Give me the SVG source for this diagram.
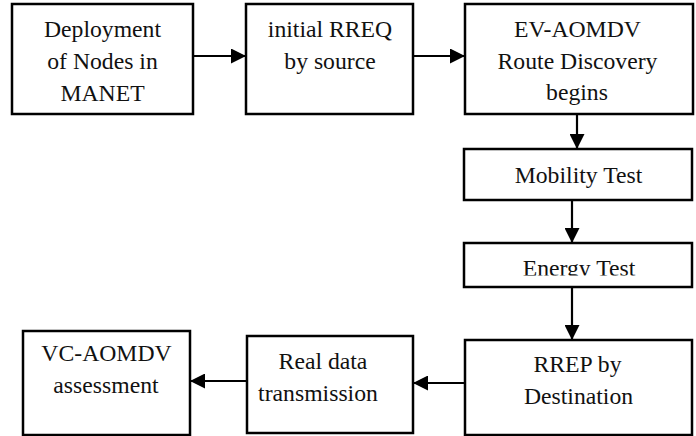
<svg xmlns="http://www.w3.org/2000/svg" width="696" height="436" viewBox="0 0 696 436">
<style>
.box{fill:#fff;stroke:#000;stroke-width:2.5}
.t{font-size:23.7px;fill:#111;text-anchor:middle}
.c{stroke:#000;stroke-width:2.2;fill:none;marker-end:url(#ah)}
</style>
<defs>
<marker id="ah" markerUnits="userSpaceOnUse" markerWidth="15" markerHeight="15" refX="15" refY="7.5" orient="auto">
<path d="M0,0 L15,7.5 L0,15 z" fill="#000"/>
</marker>
<clipPath id="eclip"><rect x="464" y="243" width="228" height="32.5"/></clipPath>
</defs>
<rect width="696" height="436" fill="#fff"/>
<g id="connectors">
<line class="c" x1="193" y1="56" x2="246" y2="56"/>
<line class="c" x1="413" y1="56" x2="465" y2="56"/>
<line class="c" x1="577" y1="114" x2="577" y2="149"/>
<line class="c" x1="572" y1="200" x2="572" y2="243"/>
<line class="c" x1="572" y1="287" x2="572" y2="340"/>
<line class="c" x1="465" y1="383" x2="413" y2="383"/>
<line class="c" x1="247" y1="381" x2="190" y2="381"/>
</g>
<g font-family="Liberation Serif, Times New Roman, serif">
<g id="n1">
<rect class="box" x="12" y="4" width="181" height="110"/>
<text class="t" x="102.5" y="37">Deployment</text>
<text class="t" x="102.5" y="68.5">of Nodes in</text>
<text class="t" x="102.5" y="100.5">MANET</text>
</g>
<g id="n2">
<rect class="box" x="246" y="4" width="167" height="110"/>
<text class="t" x="330" y="37">initial RREQ</text>
<text class="t" x="330" y="68.5">by source</text>
</g>
<g id="n3">
<rect class="box" x="465" y="4" width="228" height="110"/>
<text class="t" x="577.5" y="37">EV-AOMDV</text>
<text class="t" x="577.5" y="68.5">Route Discovery</text>
<text class="t" x="577" y="99.5">begins</text>
</g>
<g id="n4">
<rect class="box" x="464" y="149" width="228" height="51"/>
<text class="t" x="578.5" y="183">Mobility Test</text>
</g>
<g id="n5">
<rect class="box" x="464" y="243" width="228" height="44"/>
<text class="t" x="579" y="275.5" clip-path="url(#eclip)">Energy Test</text>
</g>
<g id="n6">
<rect class="box" x="465" y="340" width="227" height="95"/>
<text class="t" x="577.5" y="372">RREP by</text>
<text class="t" x="578.5" y="404">Destination</text>
</g>
<g id="n7">
<rect class="box" x="247" y="336" width="166" height="97"/>
<text class="t" x="323" y="369">Real data</text>
<text class="t" x="318" y="401">transmission</text>
</g>
<g id="n8">
<rect class="box" x="23" y="331" width="167" height="104"/>
<text class="t" x="106.5" y="361">VC-AOMDV</text>
<text class="t" x="106" y="393">assessment</text>
</g>
</g>
</svg>
